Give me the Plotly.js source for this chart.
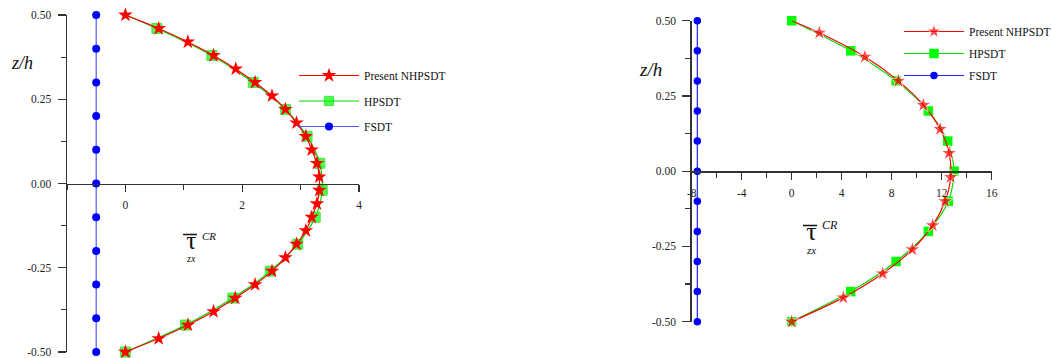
<!DOCTYPE html>
<html>
<head>
<meta charset="utf-8">
<script src="https://cdn.plot.ly/plotly-3.0.1.min.js"></script>
<style>html,body{margin:0;padding:0;background:#fff;}#chart{width:1052px;height:358px;}</style>
</head>
<body>
<div id="chart"></div>
<script>
// ---------- data ----------
// Left panel
var zLeftStar = [0.50, 0.46, 0.42, 0.38, 0.34, 0.30, 0.26, 0.22, 0.18, 0.14, 0.10, 0.06, 0.02,
                 -0.02, -0.06, -0.10, -0.14, -0.18, -0.22, -0.26, -0.30, -0.34, -0.38, -0.42, -0.46, -0.50];
var nhpsdtLeft = [0, 0.57, 1.07, 1.51, 1.89, 2.22, 2.51, 2.74, 2.93, 3.09, 3.19, 3.28, 3.32,
                  3.32, 3.28, 3.19, 3.09, 2.93, 2.74, 2.51, 2.22, 1.88, 1.51, 1.07, 0.57, 0];
var zLeftSquare = [0.50, 0.46, 0.38, 0.30, 0.22, 0.14, 0.06, -0.02, -0.10, -0.18, -0.26, -0.34, -0.42, -0.50];
var hpsdtLeft = [0, 0.54, 1.48, 2.19, 2.74, 3.11, 3.33, 3.37, 3.25, 2.95, 2.48, 1.84, 1.03, 0];
var zLeftCircle = [0.5, 0.4, 0.3, 0.2, 0.1, 0.0, -0.1, -0.2, -0.3, -0.4, -0.5];
var fsdtLeft = [-0.5, -0.5, -0.5, -0.5, -0.5, -0.5, -0.5, -0.5, -0.5, -0.5, -0.5];

// Right panel
var zRightStar = [0.50, 0.46, 0.38, 0.30, 0.22, 0.14, 0.06, -0.02, -0.10, -0.18, -0.26, -0.34, -0.42, -0.50];
var nhpsdtRight = [0, 2.21, 5.86, 8.53, 10.53, 11.87, 12.59, 12.72, 12.27, 11.28, 9.65, 7.28, 4.13, 0];
var zRightSquare = [0.5, 0.4, 0.3, 0.2, 0.1, 0.0, -0.1, -0.2, -0.3, -0.4, -0.5];
var hpsdtRight = [0, 4.72, 8.35, 10.93, 12.48, 12.99, 12.53, 10.93, 8.35, 4.72, 0];
var zRightCircle = [0.5, 0.4, 0.3, 0.2, 0.1, 0.0, -0.1, -0.2, -0.3, -0.4, -0.5];
var fsdtRight = [-7.55, -7.55, -7.55, -7.55, -7.55, -7.55, -7.55, -7.55, -7.55, -7.55, -7.55];

// tick labels
var yTickVals = [-0.5, -0.25, 0, 0.25, 0.5];
var yTickText = ["-0.50", "-0.25", "0.00", "0.25", "0.50"];
var xLeftTickVals = [0, 2, 4];
var xLeftTickText = ["0", "2", "4"];
var xRightTickVals = [-8, -4, 0, 4, 8, 12, 16];
var xRightTickText = ["-8", "-4", "0", "4", "8", "12", "16"];
var seriesNames = ["Present NHPSDT", "HPSDT", "FSDT"];

// ---------- layout helpers ----------
var W = 1052, H = 358;
function px(x) { return x / W; }
function py(y) { return (H - y) / H; }

var FONT = "Liberation Serif";
var AX = "#333333";

var xdL = [px(67), px(359)], ydL = [py(352), py(15)];
var xdR = [px(691.7), px(991.7)], ydR = [py(321.7), py(20.7)];
var yRange = [-0.5, 0.5];
function zeroPos(yd) { return yd[0] + (0 - yRange[0]) / (yRange[1] - yRange[0]) * (yd[1] - yd[0]); }

function hideFirst(n, s) { var a = []; for (var i = 0; i < n; i++) a.push(i === 0 ? 0 : s); return a; }

var RED = "#ff0000", BLUE = "#0000ff";

var traces = [
  // left panel (drawn bottom to top)
  {x: fsdtLeft, y: zLeftCircle, name: seriesNames[2], xaxis: "x", yaxis: "y", legend: "legend", legendrank: 3, legendgroup: "L3",
   mode: "lines+markers", line: {color: "#5555ff", width: 1.2}, marker: {symbol: "circle", size: 8, color: BLUE}, cliponaxis: false},
  {x: hpsdtLeft, y: zLeftSquare, name: seriesNames[1], xaxis: "x", yaxis: "y", legend: "legend", legendrank: 2, legendgroup: "L2",
   mode: "lines+markers", line: {color: "#00dd00", width: 1.2, shape: "spline", smoothing: 0.8},
   marker: {symbol: "square", size: hideFirst(zLeftSquare.length, 10), color: "#00ff00"}, cliponaxis: false},
  {x: nhpsdtLeft, y: zLeftStar, name: seriesNames[0], xaxis: "x", yaxis: "y", legend: "legend", legendrank: 1, legendgroup: "L1",
   mode: "lines+markers", line: {color: RED, width: 1.2, shape: "spline", smoothing: 0.6},
   marker: {symbol: "star", size: 11, color: RED}, cliponaxis: false},
  // right panel
  {x: fsdtRight, y: zRightCircle, name: seriesNames[2], xaxis: "x2", yaxis: "y2", legend: "legend2", legendrank: 3, legendgroup: "R3",
   mode: "lines+markers", line: {color: "#2222ff", width: 1.2}, marker: {symbol: "circle", size: 7.5, color: BLUE}, cliponaxis: false},
  {x: hpsdtRight, y: zRightSquare, name: seriesNames[1], xaxis: "x2", yaxis: "y2", legend: "legend2", legendrank: 2, legendgroup: "R2",
   mode: "lines+markers", line: {color: "#00dd00", width: 1.2, shape: "spline", smoothing: 0.8},
   marker: {symbol: "square", size: 9.5, color: "#00ff00"}, cliponaxis: false},
  {x: nhpsdtRight, y: zRightStar, name: seriesNames[0], xaxis: "x2", yaxis: "y2", legend: "legend2", legendrank: 1, legendgroup: "R1",
   mode: "lines+markers", line: {color: RED, width: 1.2, shape: "spline", smoothing: 0.8},
   marker: {symbol: "star", size: hideFirst(zRightStar.length, 12), color: RED}, cliponaxis: false}
];

function yAxis(domain, anchor, standoff) {
  return {
    domain: domain, anchor: anchor, range: yRange, showgrid: false, zeroline: false,
    showline: true, linecolor: AX, linewidth: 1.5, mirror: false,
    ticks: "outside", ticklen: 8, tickwidth: 1.2, tickcolor: AX,
    tickmode: "array", tickvals: yTickVals, ticktext: yTickText,
    tickfont: {family: FONT, size: 11.5, color: "#222"}, ticklabelstandoff: standoff,
    ticklabeloverflow: "allow",
    minor: {ticks: "outside", ticklen: 5, tickwidth: 1.2, tickcolor: AX, tickmode: "linear", tick0: 0, dtick: 0.125},
    fixedrange: true
  };
}
function xAxis(domain, range, vals, text, minorDtick, pos) {
  return {
    domain: domain, anchor: "free", position: pos, range: range, showgrid: false, zeroline: false,
    showline: true, linecolor: AX, linewidth: 1.5,
    ticks: "outside", ticklen: 7, tickwidth: 1.2, tickcolor: AX,
    tickmode: "array", tickvals: vals, ticktext: text,
    tickfont: {family: FONT, size: 11.5, color: "#222"}, ticklabelstandoff: 3,
    ticklabeloverflow: "allow",
    minor: {ticks: "outside", ticklen: 5, tickwidth: 1.2, tickcolor: AX, tickmode: "linear", tick0: 0, dtick: minorDtick},
    fixedrange: true
  };
}

var legendCommon = {
  font: {family: FONT, size: 11.5, color: "#111"}, bgcolor: "rgba(0,0,0,0)", borderwidth: 0,
  traceorder: "grouped", xanchor: "left", yanchor: "top", itemwidth: 60
};
var legendL = Object.assign({}, legendCommon, {x: px(294), y: py(61), tracegroupgap: 6.5});
var legendR = Object.assign({}, legendCommon, {x: px(899), y: py(17), tracegroupgap: 3});

function ann(text, x, y, size, italic, xanchor, yanchor) {
  return {text: italic ? "<i>" + text + "</i>" : text, xref: "paper", yref: "paper", x: px(x), y: py(y),
          xanchor: xanchor || "center", yanchor: yanchor || "middle", showarrow: false,
          font: {family: FONT, size: size, color: "#111"}};
}
// tau with "zx" tucked underneath, as one text block
function tauText(tauSize) { return "<span style=\"font-size:" + tauSize + "px\">τ</span><br><i>zx</i>"; }

var layout = {
  width: W, height: H, margin: {l: 0, r: 0, t: 0, b: 0, autoexpand: false},
  paper_bgcolor: "#fff", plot_bgcolor: "#fff",
  font: {family: FONT},
  xaxis: xAxis(xdL, [-1, 4], xLeftTickVals, xLeftTickText, 1, zeroPos(ydL)),
  yaxis: yAxis(ydL, "x", 4),
  xaxis2: xAxis(xdR, [-8, 16], xRightTickVals, xRightTickText, 2, zeroPos(ydR)),
  yaxis2: yAxis(ydR, "x2", 4),
  legend: legendL,
  legend2: legendR,
  annotations: [
    ann("z/h", 22, 63, 18, true),
    ann("z/h", 650, 70, 19, true),
    ann(tauText(25), 191, 266, 10, false, "center", "bottom"),
    ann("CR", 200, 236, 11, true, "left"),
    ann(tauText(26), 811, 258, 11, false, "center", "bottom"),
    ann("CR", 820, 225, 12, true, "left")
  ],
  shapes: [
    {type: "line", xref: "paper", yref: "paper", x0: px(183), x1: px(197), y0: py(234.5), y1: py(234.5), line: {color: "#111", width: 1.5}},
    {type: "line", xref: "paper", yref: "paper", x0: px(803), x1: px(817), y0: py(225.5), y1: py(225.5), line: {color: "#111", width: 1.5}}
  ],
  showlegend: true
};

Plotly.newPlot("chart", traces, layout, {staticPlot: true, displayModeBar: false});
</script>
</body>
</html>
